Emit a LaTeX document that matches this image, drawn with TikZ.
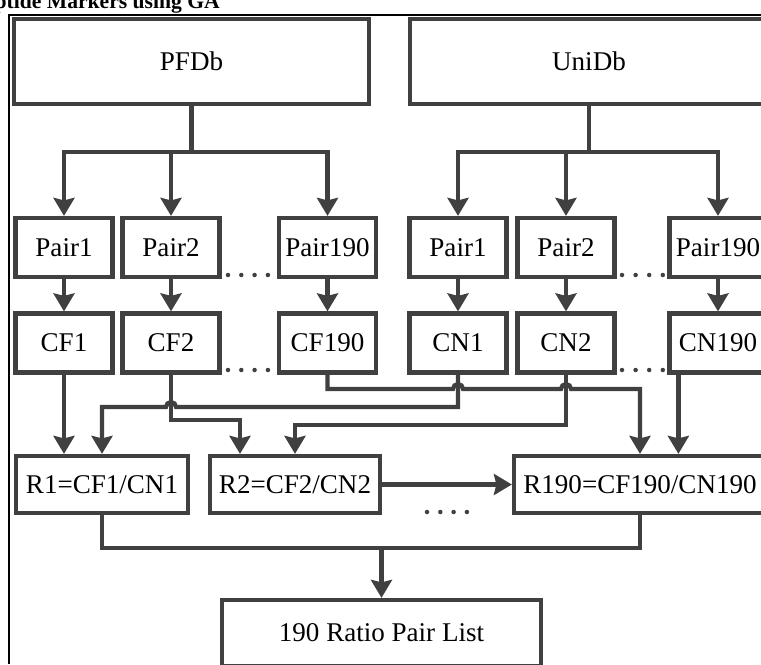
\documentclass[tikz,border=0pt]{standalone}
\usepackage{fontspec}
\setmainfont{Liberation Serif}
\usepackage{xcolor}
\usepackage{tikz}
\usetikzlibrary{positioning,arrows.meta,calc,shadows}
\definecolor{inkgray}{RGB}{64,64,64}

\tikzset{
  box/.style={draw=inkgray, line width=0.085cm, fill=white, inner sep=0pt,
    font=\fontsize{15.4}{18}\selectfont,
    drop shadow={shadow xshift=0.04cm, shadow yshift=-0.04cm, opacity=0.2}},
  dbbox/.style={box, minimum width=7.1cm, minimum height=1.7cm},
  pairbox/.style={box, minimum width=1.94cm, minimum height=1.18cm},
  ratiobox/.style={box, minimum height=1.14cm},
  wire/.style={draw=inkgray, line width=0.085cm},
  arr/.style={wire, -{Stealth[length=0.36cm, width=0.42cm, inset=0.05cm]}},
}

\begin{document}
\begin{tikzpicture}[x=0.02cm, y=0.02cm]
  \useasboundingbox (0,0) rectangle (761,664);
  \clip (0,0) rectangle (761,664);
  % page frame and heading
  \draw[line width=0.03cm] (9,0) -- (9,649) -- (761,649);
  \node[anchor=base east, font=\bfseries\fontsize{12.3}{14}\selectfont] (head) at (226,655) {ptide Markers using GA};

  % databases
  \node[dbbox] (PFDb) at (191.5,602.5) {PFDb};
  \node[dbbox, minimum width=7.16cm] (UniDb) at (589,602.5) {UniDb};

  % pairs
  \node[pairbox] (LP1) at (64,416.5) {Pair1};
  \node[pairbox] (LP2) at (171,416.5) {Pair2};
  \node[pairbox] (LP190) at (327.5,416.5) {Pair190};
  \node[pairbox] (RP1) at (458,416.5) {Pair1};
  \node[pairbox] (RP2) at (566,416.5) {Pair2};
  \node[pairbox] (RP190) at (718,416.5) {Pair190};

  % counts
  \node[pairbox] (CF1) at (64,321) {CF1};
  \node[pairbox] (CF2) at (171,321) {CF2};
  \node[pairbox] (CF190) at (327.5,321) {CF190};
  \node[pairbox] (CN1) at (458,321) {CN1};
  \node[pairbox] (CN2) at (566,321) {CN2};
  \node[pairbox] (CN190) at (718,321) {CN190};

  % ratios
  \node[ratiobox, minimum width=3.44cm] (R1) at (102,179.5) {R1=CF1/CN1};
  \node[ratiobox, minimum width=3.4cm] (R2) at (295,179.5) {R2=CF2/CN2};
  \node[ratiobox, minimum width=5.04cm] (R190) at (640,179.5) {R190=CF190/CN190};
  \node[box, minimum width=6.38cm, minimum height=1.32cm] (List) at (381.5,31) {190 Ratio Pair List};

  % levels of the horizontal runs
  \coordinate (ysplit) at (0,512);
  \coordinate (yF) at (0,275);
  \coordinate (yA) at (0,257);
  \coordinate (yB) at (0,244);
  \coordinate (yD) at (0,239);
  \coordinate (yM) at (0,116);

  % fan out to the pairs
  \draw[arr] (PFDb) |- (LP1 |- ysplit) -- (LP1);
  \draw[arr] (PFDb) |- (LP190 |- ysplit) -- (LP190);
  \draw[arr] (LP2 |- ysplit) -- (LP2);
  \draw[arr] (UniDb) |- (RP1 |- ysplit) -- (RP1);
  \draw[arr] (UniDb) |- (RP190 |- ysplit) -- (RP190);
  \draw[arr] (RP2 |- ysplit) -- (RP2);

  \draw[arr] (LP1) -- (CF1);
  \draw[arr] (LP2) -- (CF2);
  \draw[arr] (LP190) -- (CF190);
  \draw[arr] (RP1) -- (CN1);
  \draw[arr] (RP2) -- (CN2);
  \draw[arr] (RP190) -- (CN190);

  % counts into ratios
  \draw[arr] (CF1) -- (CF1 |- R1.north);
  \draw[arr] (CN1) |- ($(CF2 |- yA)+(5,0)$) arc[start angle=0, end angle=180, radius=0.1cm] -| (R1);
  \coordinate (r2in) at ($(R2.north)+(-55,0)$);
  \draw[arr] (CF2) |- (r2in |- yB) -- (r2in);
  \draw[arr] (CN2) |- (R2 |- yD) -- (R2);
  \draw[arr] (CF190) |- ($(CN1 |- yF)+(-5,0)$) arc[start angle=180, end angle=0, radius=0.1cm]
    -- ($(CN2 |- yF)+(-5,0)$) arc[start angle=180, end angle=0, radius=0.1cm] -| (R190);
  \coordinate (cn190out) at ($(CN190.south west)+(11,0)$);
  \draw[arr] (cn190out) -- (cn190out |- R190.north);
  \draw[arr] (R2) -- (R190);

  % collect the ratios
  \draw[wire] (R1) |- (R190 |- yM) -- (R190);
  \draw[arr] (List |- yM) -- (List);

  % ellipsis dots
  \foreach \k in {0,1,2,3} {
    \fill[inkgray] (228+13.3*\k,389) circle (0.045cm);
    \fill[inkgray] (228+13.3*\k,294) circle (0.045cm);
    \fill[inkgray] (622+13.6*\k,389) circle (0.045cm);
    \fill[inkgray] (622+13.6*\k,294) circle (0.045cm);
    \fill[inkgray] (427+13.3*\k,152) circle (0.045cm);
  }
\end{tikzpicture}
\end{document}
